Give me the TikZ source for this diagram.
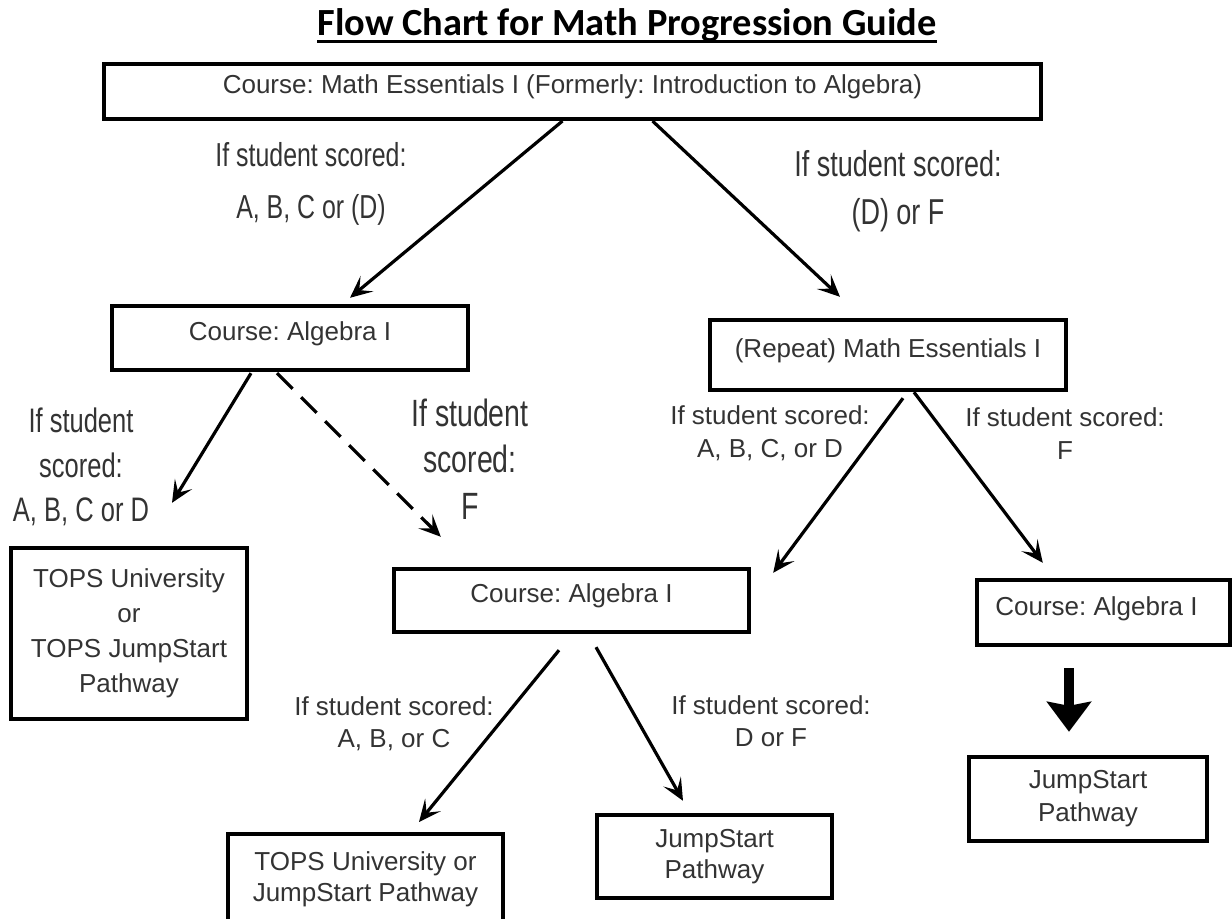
\documentclass[tikz,border=0pt]{standalone}
\usepackage{fontspec}
\setmainfont{Liberation Sans}
\newfontfamily\titlefont{Carlito}
\newfontfamily\narrowfont[FakeStretch=0.75]{Liberation Sans}
\usetikzlibrary{arrows.meta,calc}
\definecolor{txt}{HTML}{333333}
\newcommand\thickul[1]{\setbox0\hbox{#1}\rlap{\rule[-3.5pt]{\wd0}{1.5pt}}\box0}
\frenchspacing

\begin{document}
\begin{tikzpicture}[x=0.5pt, y=-0.5pt, text=txt,
  font=\fontsize{13}{17.5}\selectfont,
  box/.style 2 args={draw, line width=2.2pt, inner sep=0pt,
              minimum width=#1, minimum height=#2, align=center},
  lift/.style={text height=7pt, text depth=4.5pt},
  note/.style={align=center, inner sep=0pt},
  arr/.style={-{Stealth[length=11pt, width=10pt, inset=5pt]}, line width=1.6pt},
  bigarr/.style={-{Stealth[length=15pt, width=22pt, inset=2pt]}, line width=5.3pt}
]
  \useasboundingbox (0,0) rectangle (1232,919);
  \clip (0,0) rectangle (1232,919);
  \node[text=black, font=\titlefont\bfseries\fontsize{19.2}{22}\selectfont] (title) at (627,26)
        {\thickul{Flow Chart for Math Progression Guide}};

  % course boxes
  \node[box={468.5pt}{27.3pt}, lift] (top)  at (572.5,91.5) {Course: Math Essentials I (Formerly: Introduction to Algebra)};
  \node[box={178pt}{32pt}, lift]     (alg1) at (290,338)    {Course: Algebra I};
  \node[box={178pt}{35pt}, lift]     (rep)  at (888,355)    {(Repeat) Math Essentials I};
  \node[box={177.5pt}{31.5pt}, lift] (alg2) at (571.5,600.5){Course: Algebra I};
  \node[box={126.5pt}{32.5pt}, lift] (alg3) at (1103.5,612.5){Course: Algebra I\hspace*{7pt}};

  % pathways
  \node[box={118pt}{85.5pt}] (tops1) at (129,633.5) {TOPS University\\or\\TOPS JumpStart\\Pathway};
  \node[box={137.5pt}{44.8pt}, font=\fontsize{13}{15.5}\selectfont] (tops2) at (365.5,879)
        {TOPS University or\\JumpStart Pathway};
  \node[box={117.5pt}{41.5pt}, font=\fontsize{13}{15.5}\selectfont] (js2) at (714.5,856.5) {JumpStart\\Pathway};
  \node[box={119pt}{42pt}, font=\fontsize{13}{16.5}\selectfont]    (js3) at (1088,799)   {JumpStart\\Pathway};

  % score notes
  \node[note, font=\narrowfont\fontsize{16.6}{26}\selectfont]    (scA) at (311,184)   {If student scored:\\A, B, C or (D)};
  \node[note, font=\narrowfont\fontsize{18}{24}\selectfont]      (scB) at (898,191)   {If student scored:\\(D) or F};
  \node[note, font=\narrowfont\fontsize{17}{22.25}\selectfont]   (scC) at (81,467)    {If student\\scored:\\A, B, C or D};
  \node[note, font=\narrowfont\fontsize{19}{23.25}\selectfont]   (scD) at (470,459)   {If student\\scored:\\F};
  \node[note, font=\fontsize{13}{16.5}\selectfont] (scE) at (770,433.5) {If student scored:\\A, B, C, or D};
  \node[note, font=\fontsize{13}{16.5}\selectfont] (scF) at (1065,433.5){If student scored:\\F};
  \node[note, font=\fontsize{13}{16}\selectfont]   (scG) at (394,724)   {If student scored:\\A, B, or C};
  \node[note, font=\fontsize{13}{16}\selectfont]   (scH) at (771,721)   {If student scored:\\D or F};

  \draw[arr] ($(top.south)+(-10,0)$)   -- ($(alg1.north)+(60,-6)$);
  \draw[arr] ($(top.south)+(80,0)$)    -- ($(rep.north)+(-48,-21)$);
  \draw[arr] ($(alg1.south)+(-39,1)$)  -- ($(tops1.north)+(43,-43)$);
  \draw[arr, dash pattern=on 11pt off 6pt] ($(alg1.south)+(-13,1)$) -- ($(alg2.north west)+(49,-30)$);
  \draw[arr] ($(rep.south)+(15,6)$)    -- ($(alg2.north east)+(22,6)$);
  \draw[arr] ($(rep.south)+(26,0)$)    -- ($(alg3.north west)+(68,-15)$);
  \draw[arr] ($(alg2.south)+(-12.5,16)$) -- ($(tops2.north)+(53.5,-10)$);
  \draw[arr] ($(alg2.south)+(24.5,13)$)  -- ($(js2.north)+(-31.5,-12)$);
  \draw[bigarr] ($(alg3.south)+(-34.5,21)$) -- ($(js3.north)+(-19,-23)$);
\end{tikzpicture}
\end{document}
